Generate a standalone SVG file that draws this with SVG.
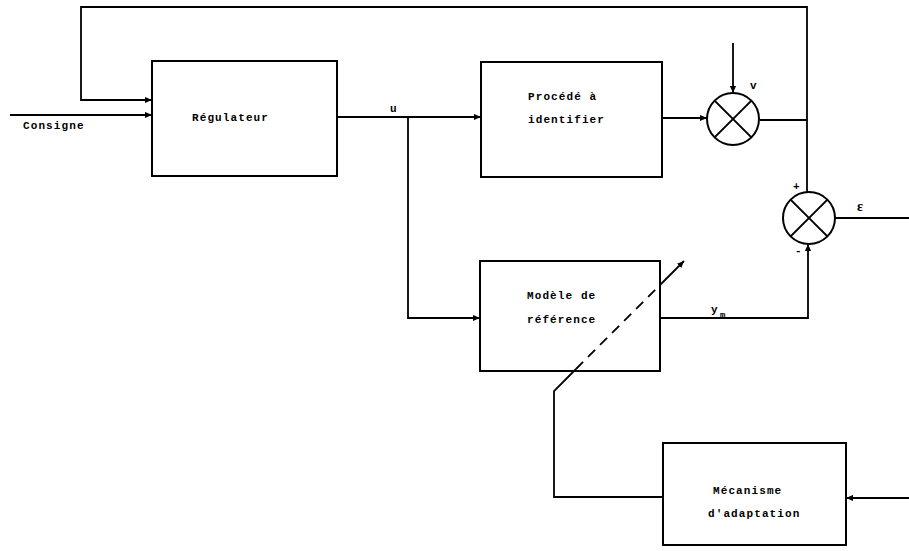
<svg xmlns="http://www.w3.org/2000/svg" width="909" height="551" viewBox="0 0 909 551">
<style>
.box{fill:none;stroke:#000;stroke-width:2}
.ln{fill:none;stroke:#000;stroke-width:1.8}
.sum{fill:#fff;stroke:#000;stroke-width:2}
.x{stroke:#000;stroke-width:2}
text{font-family:"Liberation Mono","DejaVu Sans Mono",monospace;font-weight:bold;font-size:11px;letter-spacing:1.1px;fill:#000}
</style>
<defs>
<marker id="ar" viewBox="0 0 8 8" refX="8" refY="4" markerWidth="7" markerHeight="7" markerUnits="userSpaceOnUse" orient="auto">
<path d="M0,0.5 L8,4 L0,7.5 Z" fill="#000"/>
</marker>
</defs>
<rect width="909" height="551" fill="#fff"/>
<g id="connectors">
<polyline class="ln" points="807,192 807,7 81,7 81,100 152,100" marker-end="url(#ar)"/>
<line class="ln" x1="10" y1="115" x2="152" y2="115" marker-end="url(#ar)"/>
<line class="ln" x1="337" y1="117" x2="481" y2="117" marker-end="url(#ar)"/>
<polyline class="ln" points="408,117 408,318 480,318" marker-end="url(#ar)"/>
<line class="ln" x1="662" y1="118" x2="707" y2="118" marker-end="url(#ar)"/>
<line class="ln" x1="733" y1="43" x2="733" y2="93" marker-end="url(#ar)"/>
<line class="ln" x1="760" y1="120" x2="807" y2="120"/>
<polyline class="ln" points="660,318 808,318 808,244" marker-end="url(#ar)"/>
<line class="ln" x1="835" y1="218" x2="909" y2="218"/>
<line class="ln" x1="909" y1="498" x2="846" y2="498" marker-end="url(#ar)"/>
<polyline class="ln" points="663,497 554,497 554,391 576,369"/>
<line class="ln" x1="576" y1="369" x2="660" y2="285" stroke-dasharray="10,7"/>
<line class="ln" x1="660" y1="285" x2="684" y2="261" marker-end="url(#ar)"/>
</g>
<g id="regulateur">
<rect class="box" x="152" y="61" width="185" height="115"/>
<text x="192" y="121">Régulateur</text>
</g>
<g id="procede">
<rect class="box" x="481" y="62" width="181" height="115"/>
<text x="528" y="100">Procédé à</text>
<text x="528" y="123">identifier</text>
</g>
<g id="modele">
<rect class="box" x="480" y="261" width="180" height="110"/>
<text x="527" y="299">Modèle de</text>
<text x="527" y="323">référence</text>
</g>
<g id="mecanisme">
<rect class="box" x="663" y="443" width="183" height="102"/>
<text x="713" y="494">Mécanisme</text>
<text x="708" y="517">d'adaptation</text>
</g>
<g id="summer1">
<circle class="sum" cx="733" cy="119" r="26"/>
<line class="x" x1="714.6" y1="100.6" x2="751.4" y2="137.4"/>
<line class="x" x1="751.4" y1="100.6" x2="714.6" y2="137.4"/>
</g>
<g id="summer2">
<circle class="sum" cx="809" cy="218" r="26"/>
<line class="x" x1="790.6" y1="199.6" x2="827.4" y2="236.4"/>
<line class="x" x1="827.4" y1="199.6" x2="790.6" y2="236.4"/>
</g>
<g id="labels">
<text x="23" y="129">Consigne</text>
<text x="390" y="112">u</text>
<text x="750" y="89">v</text>
<text x="793" y="190">+</text>
<text x="795" y="254">-</text>
<text x="857" y="211" style="font-family:'Liberation Serif',serif;font-size:14px">ε</text>
<text x="711" y="313">y</text>
<text x="720" y="318" style="font-size:9px">m</text>
</g>
</svg>
